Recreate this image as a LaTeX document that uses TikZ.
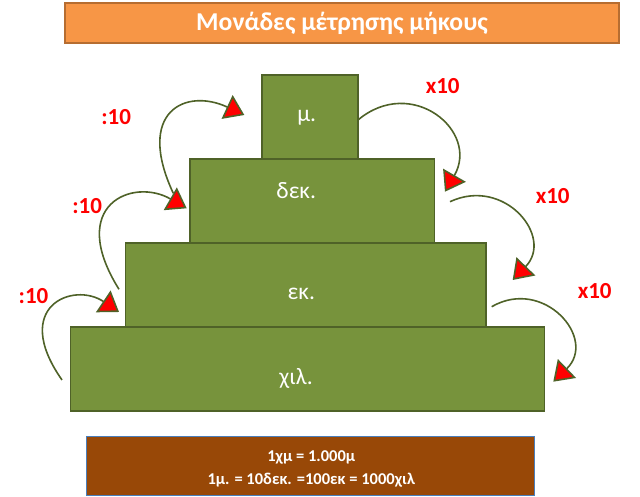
\documentclass[tikz,border=0pt]{standalone}
\usepackage{fontspec}
\setmainfont{Carlito}
\usetikzlibrary{arrows.meta}
\definecolor{boxgreen}{HTML}{77933C}
\definecolor{boxedge}{HTML}{4F6228}
\definecolor{arcgreen}{HTML}{4F6228}
\definecolor{titlefill}{HTML}{F79646}
\definecolor{titleedge}{HTML}{B66D31}
\definecolor{infofill}{HTML}{984807}
\definecolor{infoedge}{HTML}{4A7EBB}
\definecolor{labred}{HTML}{FF0000}
\tikzset{
  stepbox/.style={draw=boxedge, fill=boxgreen, line width=1.3pt, inner sep=0pt},
  steptext/.style={text=white, font=\fontsize{23.5}{26}\selectfont, anchor=base, inner sep=0pt},
  oplabel/.style={text=labred, font=\bfseries\fontsize{23}{26}\selectfont, anchor=base, inner sep=0pt},
  infotext/.style={text=white, font=\bfseries\fontsize{16.5}{19}\selectfont, anchor=base, inner sep=0pt},
  jump/.style={draw=arcgreen, line width=1.6pt, -{Triangle[length=19pt,width=26pt,fill=labred]}},
}
\begin{document}
\begin{tikzpicture}[x=1pt,y=1pt]
\useasboundingbox (0,0) rectangle (640,497);
\fill[white] (0,0) rectangle (640,497);
% title
\node[draw=titleedge, fill=titlefill, line width=1.2pt, minimum width=554pt, minimum height=40pt, inner sep=0pt] (title) at (342,474) {};
\node[text=white, font=\bfseries\fontsize{25.7}{28}\selectfont, anchor=base, inner sep=0pt] (titletext) at (342,466.3) {Μονάδες μέτρησης μήκους};
% staircase
\node[stepbox, minimum width=474pt, minimum height=84pt] (xil) at (307.7,128) {};
\node[stepbox, minimum width=360.5pt, minimum height=84pt] (ek) at (305.75,212) {};
\node[stepbox, minimum width=244.5pt, minimum height=84pt] (dek) at (312.25,296) {};
\node[stepbox, minimum width=96pt, minimum height=84pt] (m) at (310,380) {};
\node[steptext] (tm) at (306.7,375.3) {μ.};
\node[steptext] (tdek) at (296.3,298) {δεκ.};
\node[steptext] (tek) at (301.3,197) {εκ.};
\node[steptext] (txil) at (296,112) {χιλ.};
% info box
\node[draw=infoedge, fill=infofill, line width=1pt, minimum width=448.3pt, minimum height=59pt, inner sep=0pt] (info) at (310.8,30.5) {};
\node[infotext] (infoa) at (311.3,35.3) {1χμ = 1.000μ};
\node[infotext] (infob) at (311.3,12) {1μ. = 10δεκ. =100εκ = 1000χιλ};
% arc end points
\coordinate (l1s) at (62,117);    \coordinate (l1e) at (119,185);
\coordinate (l2s) at (119,207.7); \coordinate (l2e) at (186.7,288.7);
\coordinate (l3s) at (173.3,303.7); \coordinate (l3e) at (244.3,382);
\coordinate (r1s) at (358,377);   \coordinate (r1e) at (445,305.3);
\coordinate (r2s) at (450,295.3); \coordinate (r2e) at (512.7,217);
\coordinate (r3s) at (491.7,190.3); \coordinate (r3e) at (553.3,115.3);
% arcs
\draw[jump] (l1s) to[out=125,in=146,out distance=90pt,in distance=55pt] (l1e);
\draw[jump] (l2s) to[out=122,in=150,out distance=100pt,in distance=62pt] (l2e);
\draw[jump] (l3s) to[out=115,in=155,out distance=90pt,in distance=65pt] (l3e);
\draw[jump] (r1s) to[out=40,in=60,out distance=70pt,in distance=70pt] (r1e);
\draw[jump] (r2s) to[out=25,in=46,out distance=60pt,in distance=60pt] (r2e);
\draw[jump] (r3s) to[out=30,in=44,out distance=60pt,in distance=62pt] (r3e);
% labels
\node[oplabel] (d1) at (116.2,372.7) {:10};
\node[oplabel] (d2) at (87.2,283) {:10};
\node[oplabel] (d3) at (33.5,193.7) {:10};
\node[oplabel] (x1) at (442.7,403.7) {x10};
\node[oplabel] (x2) at (552.7,293) {x10};
\node[oplabel] (x3) at (594.7,198.7) {x10};
\end{tikzpicture}
\end{document}
